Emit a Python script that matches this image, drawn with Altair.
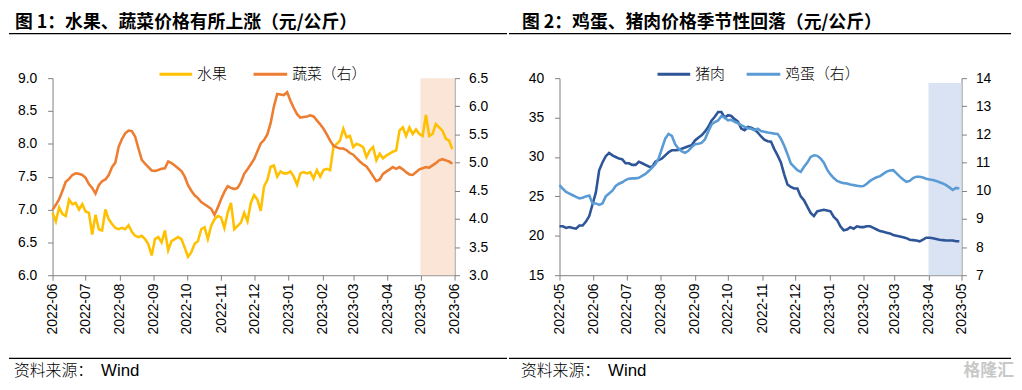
import altair as alt
import pandas as pd

# ---------------- data (3-day steps) ----------------
fruit_start = "2022-06-01"
fruit = [6.95, 6.82, 7.03, 6.93, 6.9, 7.15, 7.08, 7.1, 7.0, 7.08,
         6.97, 6.95, 6.62, 6.92, 6.7, 6.68, 7.0, 6.85, 6.78, 6.72,
         6.7, 6.72, 6.7, 6.76, 6.66, 6.6, 6.58, 6.6, 6.55, 6.47,
         6.3, 6.55, 6.58, 6.5, 6.68, 6.38, 6.52, 6.55, 6.58, 6.55,
         6.42, 6.28, 6.35, 6.48, 6.52, 6.7, 6.73, 6.55, 6.75, 6.85,
         6.9, 6.88, 6.72, 6.95, 7.1, 6.7, 6.75, 6.8, 6.95, 6.82,
         7.1, 7.22, 7.15, 6.98, 7.35, 7.45, 7.65, 7.67, 7.5, 7.58,
         7.55, 7.55, 7.58, 7.5, 7.38, 7.55, 7.57, 7.55, 7.57, 7.47,
         7.6, 7.5, 7.6, 7.62, 7.6, 7.95, 8.0, 8.05, 8.23, 8.1,
         8.12, 7.95, 8.0, 7.98, 7.95, 7.8, 7.9, 7.95, 7.75, 7.85,
         7.78, 7.82, 7.85, 7.88, 7.9, 8.2, 8.25, 8.12, 8.25, 8.15,
         8.22, 8.15, 8.12, 8.44, 8.12, 8.15, 8.3, 8.25, 8.2, 8.08,
         8.05, 7.92]
veg = [4.16, 4.25, 4.35, 4.5, 4.66, 4.71, 4.78, 4.81, 4.8, 4.78,
       4.73, 4.62, 4.55, 4.45, 4.6, 4.67, 4.7, 4.78, 4.92, 5.0,
       5.28, 5.42, 5.52, 5.57, 5.56, 5.46, 5.25, 5.05, 4.98, 4.92,
       4.86, 4.85, 4.87, 4.89, 4.9, 5.02, 4.99, 4.95, 4.9, 4.85,
       4.75, 4.6, 4.5, 4.42, 4.37, 4.3, 4.26, 4.22, 4.18, 4.07,
       4.2, 4.35, 4.48, 4.58, 4.55, 4.53, 4.55, 4.65, 4.8, 4.88,
       4.97, 5.06, 5.2, 5.34, 5.4, 5.5, 5.7, 6.0, 6.22, 6.21,
       6.2, 6.25, 6.1, 5.97, 5.86, 5.8, 5.81, 5.82, 5.84, 5.82,
       5.75, 5.68, 5.6, 5.5, 5.39, 5.3, 5.27, 5.25, 5.25, 5.22,
       5.17, 5.14, 5.08, 5.02, 4.97, 4.93, 4.85, 4.76, 4.67, 4.7,
       4.8, 4.84, 4.88, 4.92, 4.89, 4.92, 4.88, 4.83, 4.79, 4.78,
       4.83, 4.88, 4.9, 4.92, 4.91, 4.95, 4.99, 5.04, 5.06, 5.04,
       5.02, 4.98]

meat_start = "2022-05-01"
pork = [21.2, 21.2, 21.0, 21.1, 21.0, 20.9, 21.3, 21.3, 21.8, 22.5,
        24.0, 25.5, 28.3, 29.3, 30.1, 30.5, 30.2, 30.0, 29.8, 29.7,
        29.2, 29.2, 29.0, 29.0, 29.4, 29.2, 29.0, 28.8, 28.7, 29.4,
        29.6, 29.8, 30.2, 30.6, 30.85, 30.85, 30.9, 31.05, 31.2, 31.35,
        31.5, 32.1, 32.45, 32.75, 33.2, 33.8, 34.6, 35.1, 35.7, 35.7,
        35.0, 35.3, 35.2, 34.8, 34.5, 33.6, 33.4, 33.8, 33.7, 33.5,
        33.1, 32.6, 32.2, 32.0, 31.95, 31.0, 30.2, 29.3, 27.8, 26.5,
        26.2, 26.0, 26.0, 25.0, 24.5, 23.7, 22.9, 22.5, 23.1, 23.2,
        23.3, 23.2, 23.1, 22.4, 22.0, 21.2, 20.7, 20.8, 21.1, 20.9,
        21.2, 21.1, 21.1, 21.2, 21.2, 21.0, 20.8, 20.6, 20.5, 20.4,
        20.3, 20.1, 20.0, 19.9, 19.8, 19.7, 19.5, 19.45, 19.4, 19.3,
        19.5, 19.75, 19.75, 19.7, 19.6, 19.5, 19.45, 19.4, 19.4, 19.4,
        19.3, 19.3]
egg = [10.2, 10.07, 9.96, 9.9, 9.84, 9.78, 9.73, 9.75, 9.8, 9.83,
       9.55, 9.55, 9.5, 9.55, 9.8, 9.9, 10.0, 10.17, 10.25, 10.3,
       10.38, 10.43, 10.44, 10.44, 10.46, 10.53, 10.6, 10.7, 10.82, 10.94,
       11.15, 11.5, 11.85, 12.02, 11.95, 11.65, 11.5, 11.4, 11.35, 11.42,
       11.55, 11.65, 11.67, 11.7, 11.82, 12.1, 12.35, 12.44, 12.5, 12.65,
       12.6, 12.5, 12.52, 12.45, 12.4, 12.33, 12.27, 12.22, 12.2, 12.15,
       12.2, 12.12, 12.1, 12.07, 12.05, 12.03, 12.02, 11.85, 11.6, 11.3,
       10.97, 10.85, 10.73, 10.67, 10.85, 11.0, 11.2, 11.26, 11.24, 11.15,
       11.0, 10.75, 10.58, 10.45, 10.35, 10.3, 10.27, 10.26, 10.22, 10.2,
       10.18, 10.16, 10.17, 10.25, 10.35, 10.42, 10.48, 10.52, 10.6, 10.68,
       10.72, 10.73, 10.62, 10.5, 10.4, 10.32, 10.35, 10.45, 10.5, 10.5,
       10.47, 10.43, 10.4, 10.38, 10.35, 10.3, 10.26, 10.2, 10.12, 10.03,
       10.1, 10.08]

left_ticks = [6.0, 6.5, 7.0, 7.5, 8.0, 8.5, 9.0]
left_ticks_r = [3.0, 3.5, 4.0, 4.5, 5.0, 5.5, 6.0, 6.5]
right_ticks = [15, 20, 25, 30, 35, 40]
right_ticks_r = [7, 8, 9, 10, 11, 12, 13, 14]

shade1 = {"s": "2023-05-01", "e": "2023-06-01", "lo": 6.0, "hi": 9.0}
shade2 = {"s": "2023-04-01", "e": "2023-05-01", "lo": 15.0, "hi": 39.4}

title1 = "图 1：水果、蔬菜价格有所上涨（元/公斤）"
title2 = "图 2：鸡蛋、猪肉价格季节性回落（元/公斤）"
leg1 = ["水果", "蔬菜（右）"]
leg2 = ["猪肉", "鸡蛋（右）"]

C_FRUIT, C_VEG = "#FFC000", "#ED7D31"
C_PORK, C_EGG = "#2E5597", "#5B9BD5"

CJK = "Noto Sans CJK SC"
NUM = "Liberation Sans"
AX = "#7F7F7F"
W, H = 406, 199


def sdf(start, vals):
    d = pd.date_range(start, periods=len(vals), freq="3D")
    return pd.DataFrame({"date": d.strftime("%Y-%m-%d"), "v": vals})


def months(year, month, n):
    out = []
    for k in range(n):
        y = year + (month - 1 + k) // 12
        m = (month - 1 + k) % 12 + 1
        out.append(alt.DateTime(year=y, month=m, date=1, utc=True))
    return out


one = alt.Data(values=[{"a": 1}])


def txt(s, x, y, size, weight="normal", font=CJK, color="#000000", baseline="middle"):
    return alt.Chart(one).mark_text(
        text=s, fontSize=size, fontWeight=weight, font=font, color=color,
        align="left", baseline=baseline
    ).encode(x=alt.value(x), y=alt.value(y))


def hline(x1, x2, y, color, width):
    return alt.Chart(one).mark_rule(color=color, strokeWidth=width).encode(
        x=alt.value(x1), x2=alt.value(x2), y=alt.value(y))


def panel(start_y, start_m, df_l, df_r, colors, shade, ldom, lticks, lfmt,
          rdom, rticks, rfmt, title, legs, leg_x, rule_x):
    ticks = months(start_y, start_m, 13)
    xscale = alt.Scale(type="utc", domain=[ticks[0], ticks[-1]])
    xaxis = alt.Axis(values=ticks, labelExpr="utcFormat(datum.value, '%Y-%m')",
                     labelAngle=-90,
                     labelFont=NUM, labelFontSize=14, labelColor="#000000",
                     labelPadding=3, labelOverlap=False, tickSize=5,
                     tickColor=AX, domainColor=AX, grid=False, title=None)
    yl_scale = alt.Scale(domain=ldom, nice=False, zero=False)
    yl_axis = alt.Axis(orient="left", values=lticks, format=lfmt, labelFont=NUM,
                       labelFontSize=14, labelColor="#000000", labelPadding=11,
                       tickSize=5, tickColor=AX, domainColor=AX, grid=False, title=None)
    yr_axis = alt.Axis(orient="right", values=rticks, format=rfmt, labelFont=NUM,
                       labelFontSize=14, labelColor="#000000", labelPadding=9,
                       tickSize=5, tickColor=AX, domainColor=AX, grid=False, title=None)

    rect = alt.Chart(pd.DataFrame([shade])).mark_rect(color=shade["color"]).encode(
        x=alt.X("s:T", scale=xscale, axis=xaxis),
        x2="e:T",
        y=alt.Y("lo:Q", scale=yl_scale, axis=yl_axis),
        y2="hi:Q",
    )
    line_l = alt.Chart(df_l).mark_line(color=colors[0], strokeWidth=2.6).encode(
        x=alt.X("date:T", scale=xscale, axis=xaxis),
        y=alt.Y("v:Q", scale=yl_scale, axis=yl_axis),
    )
    line_r = alt.Chart(df_r).mark_line(color=colors[1], strokeWidth=2.6).encode(
        x=alt.X("date:T", scale=xscale, axis=xaxis),
        y=alt.Y("v:Q", scale=alt.Scale(domain=rdom, nice=False, zero=False), axis=yr_axis),
    )
    inner = alt.layer(rect, line_l)

    deco = [
        hline(rule_x[0], rule_x[0] + 1, -68.5, "#FFFFFF", 1),
        txt(title, -38, -55.5, 18, weight="bold"),
        hline(rule_x[0], rule_x[1], -45, "#000000", 1.3),
        hline(leg_x[0], leg_x[0] + 33, -4, colors[0], 3),
        txt(legs[0], leg_x[0] + 38, -4, 15, weight=300),
        hline(leg_x[1], leg_x[1] + 34, -4, colors[1], 3),
        txt(legs[1], leg_x[1] + 39, -4, 15, weight=300),
        hline(rule_x[0], rule_x[1], 283, "#000000", 1.3),
        txt("资料来源：", -39, 296, 16, weight=300),
        txt("Wind", 49, 296, 17, font=NUM),
    ]
    return alt.layer(inner, line_r, *deco).resolve_scale(y="independent").properties(
        width=W, height=H)


s1 = dict(shade1, color="#FBE5D6")
s2 = dict(shade2, color="#DAE3F3")

left = panel(2022, 6, sdf(fruit_start, fruit), sdf(fruit_start, veg), [C_FRUIT, C_VEG],
             s1, [6.0, 9.0], left_ticks, ".1f", [3.0, 6.5], left_ticks_r, ".1f",
             title1, leg1, [108, 203], [-44, 459])
right = panel(2022, 5, sdf(meat_start, pork), sdf(meat_start, egg), [C_PORK, C_EGG],
              s2, [15, 40], right_ticks, "d", [7, 14], right_ticks_r, "d",
              title2, leg2, [99, 189], [-51, 456])
right = alt.layer(right, txt("格隆汇", 408, 296, 17, weight="bold", color="#C8C8C8"))

chart = alt.hconcat(left, right, spacing=0).properties(padding=0).configure_view(stroke=None)

chart.save("out.html", embed_options={"renderer": "svg", "actions": False})
